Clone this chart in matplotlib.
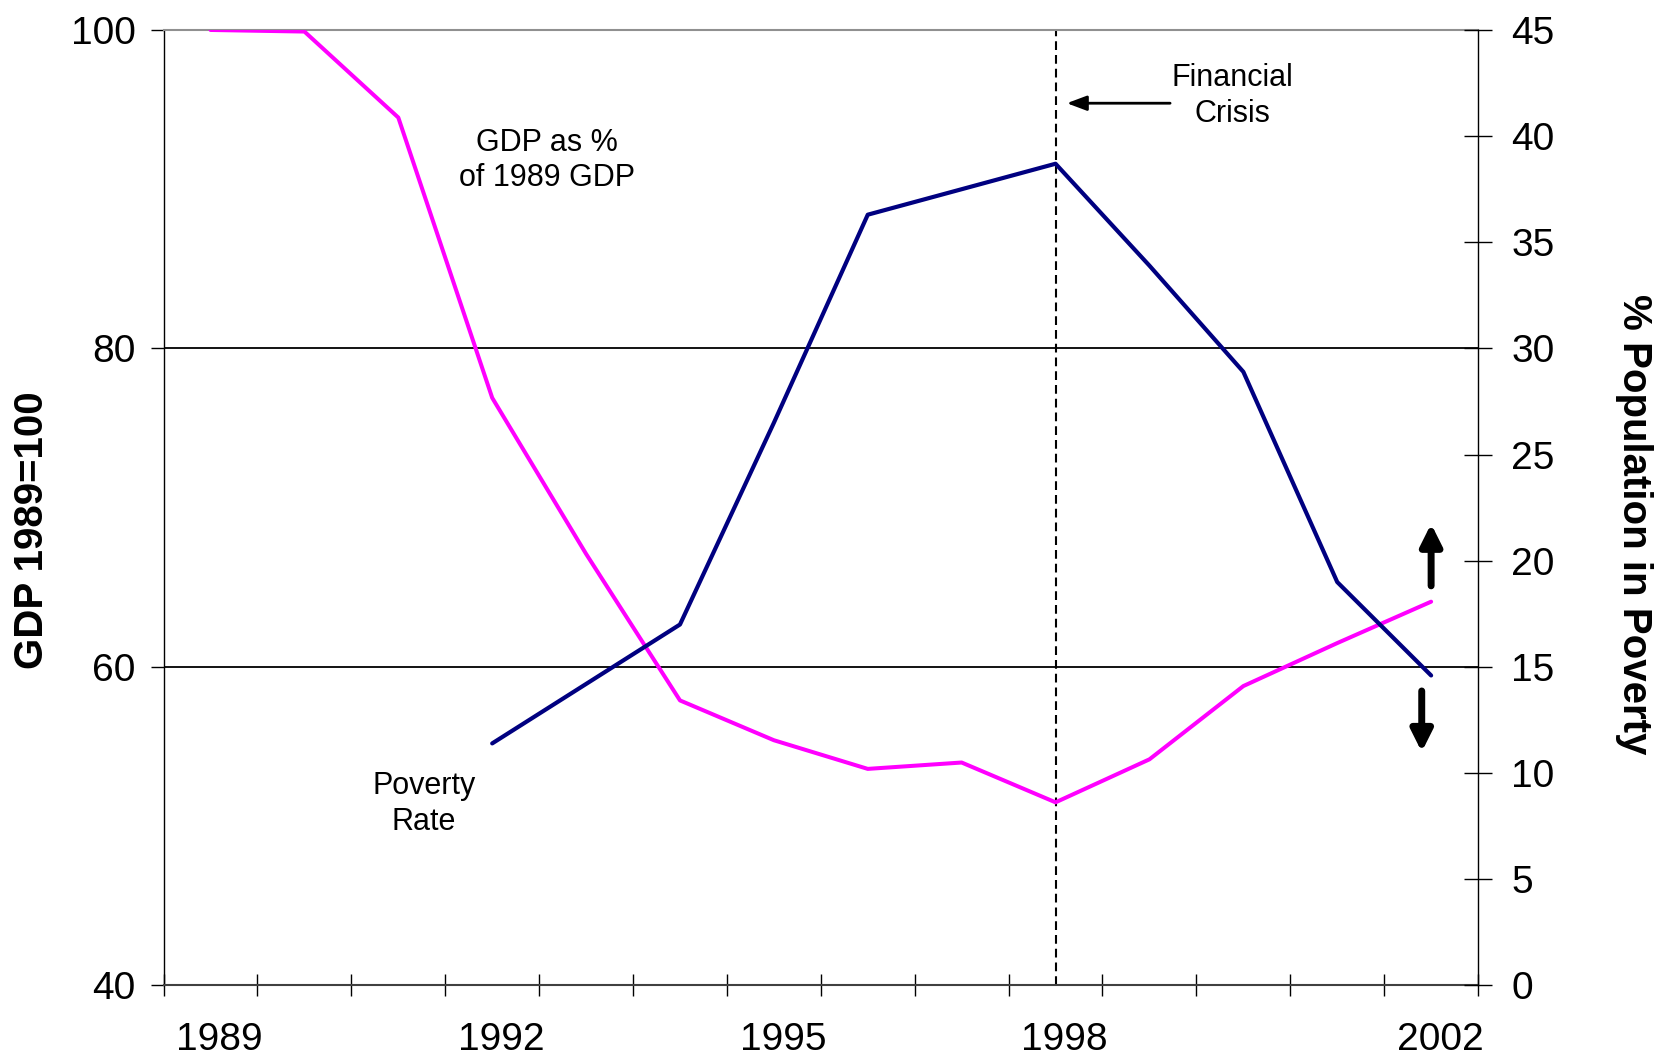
import matplotlib.pyplot as plt
import matplotlib.transforms as mtransforms

plt.rcParams['font.family'] = ['Liberation Sans', 'DejaVu Sans']

years = [1989, 1990, 1991, 1992, 1993, 1994, 1995, 1996, 1997, 1998, 1999, 2000, 2001, 2002]
gdp = [100, 99.9, 94.5, 76.9, 67.1, 57.9, 55.4, 53.6, 54.0, 51.5, 54.2, 58.8, 61.5, 64.1]

pov_years = [1992, 1993, 1994, 1995, 1996, 1997, 1998, 1999, 2000, 2001, 2002]
poverty = [11.4, 14.2, 17.0, 26.5, 36.3, 37.5, 38.7, 33.9, 28.9, 19.0, 14.6]

labeled_years = [1989, 1992, 1995, 1998, 2002]
crisis_year = 1998
gdp_ticks = [40, 60, 80, 100]
gdp_grid = [60, 80]
pov_ticks = list(range(0, 50, 5))

fig = plt.figure(figsize=(16.76, 10.55), dpi=100)
ax = fig.add_axes([0.0976, 0.0659, 0.7843, 0.9057])
ax2 = ax.twinx()

for g in gdp_grid:
    ax.axhline(g, color='black', lw=1.3, zorder=1)
ax.axvline(crisis_year, color='black', lw=1.5, dashes=(4.2, 2.4), zorder=2)

ax.plot(years, gdp, color='#FF00FF', lw=2.9, solid_capstyle='round', zorder=3)
ax2.plot(pov_years, poverty, color='#000080', lw=3.0, solid_capstyle='round', zorder=3)

ax.set_xlim(1988.5, 2002.5)
ax.set_ylim(40, 100)
ax2.set_ylim(0, 45)

# x axis: ticks at year boundaries, labels only at a few years
ax.set_xticks(labeled_years)
ax.set_xticklabels([str(y) for y in labeled_years])
ax.set_xticks([y - 0.5 for y in years] + [years[-1] + 0.5], minor=True)
ax.tick_params(axis='x', which='major', length=0, direction='inout', pad=26, labelsize=28)
ax.tick_params(axis='x', which='minor', length=16, width=1.0, direction='inout')
off = mtransforms.ScaledTranslation(0.09, 0, fig.dpi_scale_trans)
for lab in ax.get_xticklabels():
    lab.set_transform(lab.get_transform() + off)

ax.set_yticks(gdp_ticks)
ax.tick_params(axis='y', which='major', length=9.3, width=1.0, direction='out', pad=11, labelsize=28)

ax2.set_yticks(pov_ticks)
ax2.tick_params(axis='y', which='major', length=19.6, width=1.0, direction='inout', pad=14, labelsize=28)

ax.spines['top'].set_color('#909090')
ax.spines['top'].set_linewidth(1.5)
ax.spines['bottom'].set_color('#404040')
ax.spines['bottom'].set_linewidth(1.5)
ax.spines['left'].set_linewidth(1.0)
ax.spines['right'].set_visible(False)
for s in ['top', 'bottom', 'left']:
    ax2.spines[s].set_visible(False)
ax2.spines['right'].set_linewidth(1.0)

ax.text(-0.1, 0.477, 'GDP 1989=100', transform=ax.transAxes, rotation=90,
        ha='center', va='center', fontsize=29, fontweight='bold')
ax.text(1.119, 0.483, '% Population in Poverty', transform=ax.transAxes, rotation=270,
        ha='center', va='center', fontsize=29, fontweight='bold')

ax.text(1992.58, 91.8, 'GDP as %\nof 1989 GDP', ha='center', va='center', fontsize=22,
        linespacing=1.25)
ax.text(1991.27, 51.4, 'Poverty\nRate', ha='center', va='center', fontsize=22,
        linespacing=1.25)
ax.text(1999.88, 95.85, 'Financial\nCrisis', ha='center', va='center', fontsize=22,
        linespacing=1.25)

ax.annotate('', xy=(1998.12, 95.4), xytext=(1999.22, 95.4),
            arrowprops=dict(arrowstyle='-|>,head_length=0.4,head_width=0.15',
                            mutation_scale=30, lw=2.0, color='black',
                            shrinkA=0, shrinkB=0))
ax2.annotate('', xy=(2002.0, 21.74), xytext=(2002.0, 18.82),
             arrowprops=dict(arrowstyle='-|>,head_length=0.4,head_width=0.2',
                             mutation_scale=32, lw=5, color='black',
                             shrinkA=0, shrinkB=0))
ax2.annotate('', xy=(2001.9, 11.0), xytext=(2001.9, 13.87),
             arrowprops=dict(arrowstyle='-|>,head_length=0.4,head_width=0.2',
                             mutation_scale=32, lw=5, color='black',
                             shrinkA=0, shrinkB=0))

fig.savefig('out.png', dpi=100)
